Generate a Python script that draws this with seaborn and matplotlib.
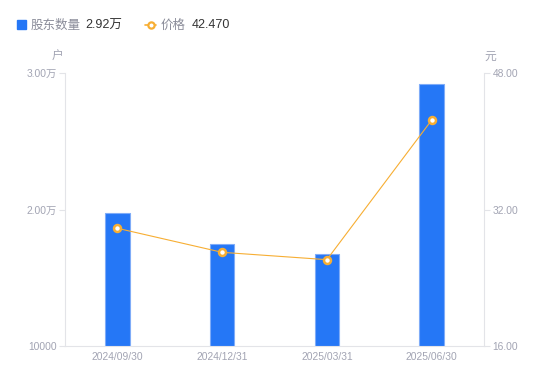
import matplotlib
matplotlib.use("Agg")
import matplotlib.pyplot as plt
import seaborn as sns
import pandas as pd
from matplotlib.ticker import FixedLocator
from matplotlib.patches import Rectangle
from matplotlib.lines import Line2D

dates = ["2024/09/30", "2024/12/31", "2025/03/31", "2025/06/30"]
holders = [19720, 17470, 16740, 29200]
prices = [29.80, 26.98, 26.12, 42.47]
left_ticks = [10000, 20000, 30000]
left_labels = ["10000", "2.00万", "3.00万"]
right_ticks = [16, 32, 48]
right_labels = ["16.00", "32.00", "48.00"]

sns.set_theme(style="white")
plt.rcParams['font.family'] = ['Liberation Sans', 'Noto Sans CJK SC', 'DejaVu Sans']

df = pd.DataFrame({"date": dates, "holders": holders, "price": prices})

fig = plt.figure(figsize=(5.5, 3.81), dpi=100)
ax = fig.add_axes([65/550, 35/381, (484-65)/550, (346-73)/381])

blue = "#2577F6"
orange = "#F7AE33"
tick_c = "#A2A4B3"
axis_c = "#E3E4E8"

sns.barplot(data=df, x="date", y="holders", color=blue, width=0.235,
            edgecolor="#7FACF8", linewidth=0.8, saturation=1, ax=ax)
ax.set_ylim(10000, 30000)
ax.yaxis.set_major_locator(FixedLocator(left_ticks))
ax.set_yticklabels(left_labels)
ax.set_xlabel("")
ax.set_ylabel("")

ax2 = ax.twinx()
sns.lineplot(data=df, x="date", y="price", color=orange, linewidth=0.8,
             marker="o", markersize=5, markerfacecolor="white",
             markeredgecolor=orange, markeredgewidth=1.8, ax=ax2, sort=False)
ax2.set_ylim(16, 48)
ax2.yaxis.set_major_locator(FixedLocator(right_ticks))
ax2.set_yticklabels(right_labels)
ax2.set_ylabel("")
ax2.set_xlabel("")
ax.set_xlim(-0.5, 3.5)

for a in (ax, ax2):
    for s in a.spines.values():
        s.set_visible(False)
    a.tick_params(colors=tick_c, labelsize=7.4, length=4, width=0.8)
    a.tick_params(axis="y", color=axis_c, pad=2)
ax.tick_params(axis="x", length=0, pad=4)
for name in ("left", "bottom"):
    ax.spines[name].set_visible(True)
    ax.spines[name].set_color(axis_c)
    ax.spines[name].set_linewidth(0.8)
ax2.spines["right"].set_visible(True)
ax2.spines["right"].set_color(axis_c)
ax2.spines["right"].set_linewidth(0.8)
ax.grid(False)
ax2.grid(False)

# unit labels
fig.text(58/550, 1-57/381, "户", color=tick_c, fontsize=8.5, ha="center", va="center")
fig.text(490/550, 1-57/381, "元", color=tick_c, fontsize=8.5, ha="center", va="center")

# legend
ly = 1 - 25.5/381
fig.patches.append(Rectangle((17/550, 1-29/381), 9/550, 9/381, transform=fig.transFigure,
                             color=blue, figure=fig))
fig.text(31/550, ly, "股东数量", color="#8A8C99", fontsize=9, va="center")
fig.text(85/550, ly, "2.92万", color="#333333", fontsize=9, va="center")
fig.lines.append(Line2D([145/550, 156/550], [1-24.5/381, 1-24.5/381], transform=fig.transFigure,
                        color=orange, linewidth=1.2, figure=fig))
fig.lines.append(Line2D([150.5/550], [1-24.5/381], transform=fig.transFigure, color=orange,
                        marker="o", markersize=4.5, markerfacecolor="white", markeredgewidth=1.6,
                        linestyle="none", figure=fig))
fig.text(161/550, ly, "价格", color="#8A8C99", fontsize=9, va="center")
fig.text(192/550, ly, "42.470", color="#333333", fontsize=9, va="center")

fig.savefig("out.png", dpi=100)
